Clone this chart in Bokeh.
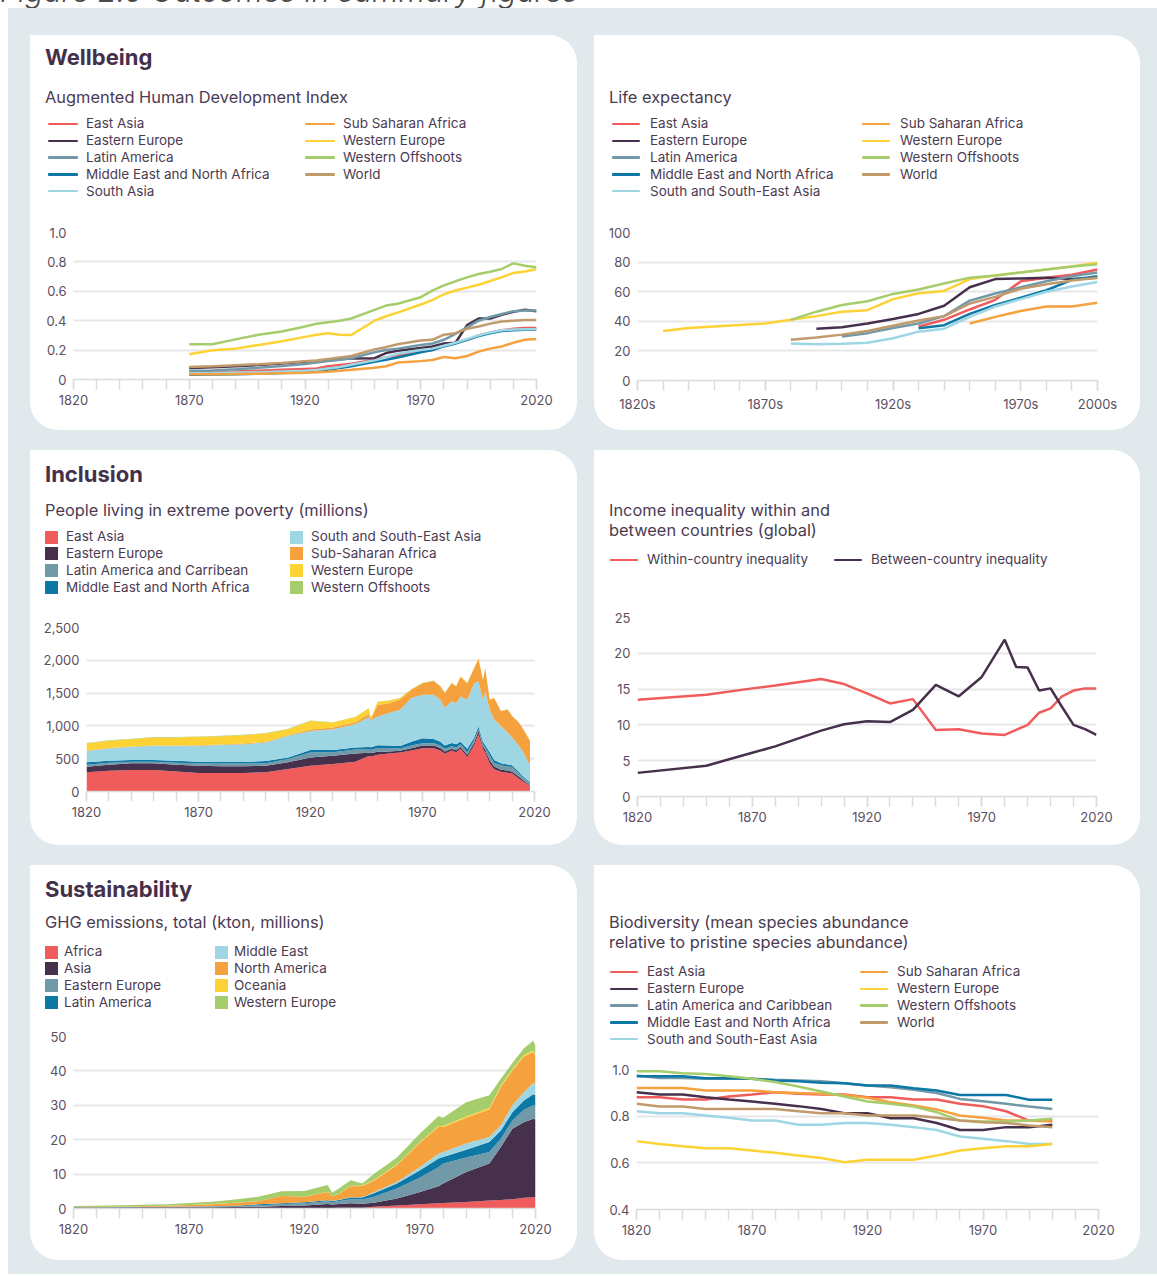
import math
from bokeh.plotting import figure
from bokeh.models import (ColumnDataSource, FixedTicker, NumeralTickFormatter, Spacer, Div, Range1d)
from bokeh.layouts import column, row
from bokeh.embed import file_html
from bokeh.resources import INLINE

N = float("nan")

FONT = "Inter"
TITLE_C = "#45304b"
TEXT_C = "#4b3b52"
TICK_C = "#5d4f62"
GRID_C = "#e7e7e9"
AXIS_C = "#dcdcdc"
BG = "#e2e9ec"

C_EA = "#f05c5c"
C_EE = "#46304c"
C_LA = "#7199a8"
C_ME = "#0d77a6"
C_SA = "#9fd6e4"
C_SSA = "#f5a13d"
C_WE = "#fdd235"
C_WO = "#a6cd6c"
C_WD = "#c19a6b"

# ---------------- Augmented HDI ----------------
hdi_years = [1870, 1880, 1890, 1900, 1910, 1920, 1925, 1930, 1935, 1940, 1950, 1955,
             1960, 1970, 1975, 1980, 1985, 1990, 1995, 2000, 2005, 2010, 2015, 2020]
hdi_east_asia = [.050, .052, .055, .060, .066, .072, .075, .090, .098, .108, .135, .150,
                 .163, .190, .200, .230, .250, .270, .300, .318, .335, .345, .350, .350]
hdi_eastern_europe = [.078, .083, .090, .098, .108, .120, .125, .130, .138, .143, .145, .180,
                      .195, .215, .225, .245, .250, .370, .415, .415, .440, .460, .475, .465]
hdi_latin_america = [.060, .062, .070, .080, .092, .105, .115, .125, .135, .145, .185, .200,
                     .210, .235, .245, .270, .310, .355, .400, .425, .445, .465, .470, .470]
hdi_mena = [.033, .034, .036, .040, .045, .052, .058, .068, .078, .090, .120, .135,
            .150, .185, .200, .225, .245, .270, .295, .315, .330, .335, .338, .338]
hdi_south_asia = [.042, .044, .047, .050, .055, .060, .065, .075, .085, .100, .130, .150,
                  .175, .200, .210, .230, .250, .275, .300, .320, .335, .340, .342, .342]
hdi_ssa = [.035, .036, .037, .039, .042, .046, .050, .052, .060, .066, .080, .090,
           .115, .125, .133, .153, .145, .160, .190, .210, .225, .250, .270, .275]
hdi_western_europe = [.172, .199, .210, .235, .260, .290, .305, .315, .305, .303, .400, .430,
                      .455, .510, .540, .580, .605, .625, .645, .670, .695, .725, .735, .752]
hdi_offshoots = [.239, .240, .273, .305, .327, .360, .380, .390, .400, .415, .474, .503,
                 .515, .560, .605, .640, .668, .695, .718, .733, .752, .790, .774, .763]
hdi_world = [.085, .090, .097, .104, .113, .124, .130, .140, .150, .160, .205, .220,
             .240, .265, .270, .305, .315, .345, .360, .380, .395, .400, .405, .405]
hdi_labels = ["East Asia", "Eastern Europe", "Latin America", "Middle East and North Africa",
              "South Asia", "Sub Saharan Africa", "Western Europe", "Western Offshoots", "World"]

# ---------------- Life expectancy (decades) ----------------
le_decades = [1820, 1830, 1840, 1850, 1860, 1870, 1880, 1890, 1900, 1910,
              1920, 1930, 1940, 1950, 1960, 1970, 1980, 1990, 2000]
le_east_asia = [N] * 11 + [36.5, 41, 48, 54.5, 67, 69.5, 71.5, 75]
le_eastern_europe = [N] * 7 + [35, 36, 38.5, 41.5, 45, 50.5, 63, 68.5, 69, 69.5, 68.5, 69.5]
le_latin_america = [N] * 8 + [29.8, 32, 35.5, 38.5, 43.5, 54, 58.8, 63, 67, 70.5, 73]
le_mena = [N] * 11 + [35.3, 37.4, 45, 51, 56, 61, 68, 70.5]
le_ssea = [N] * 6 + [25, 24.5, 24.8, 25.5, 28.5, 33, 35, 43, 50, 55, 60, 63.5, 66.5]
le_ssa = [N] * 13 + [38.5, 43, 47, 50, 50, 52.5]
le_western_europe = [N, 33.5, 35.5, 36.5, 37.5, 38.5, 41, 43.5, 46.5, 47.5,
                     55, 59, 60.5, 68.5, 71, 73, 75, 77, 79.5]
le_offshoots = [N] * 6 + [41, 46.5, 51, 53.5, 58.5, 61.5, 65.5, 69.5, 71, 73, 75, 77, 78.5]
le_world = [N] * 6 + [27.5, 29, 31, 33.5, 37, 40.5, 43.5, 52, 56.5, 62, 65, 67.5, 69.5]
le_labels = ["East Asia", "Eastern Europe", "Latin America", "Middle East and North Africa",
             "South and South-East Asia", "Sub Saharan Africa", "Western Europe",
             "Western Offshoots", "World"]
le_tick_labels = {1820: "1820s", 1870: "1870s", 1920: "1920s", 1970: "1970s", 2000: "2000s"}

# ---------------- Extreme poverty (millions) ----------------
pov_years = [1820, 1830, 1840, 1850, 1860, 1870, 1880, 1890, 1900, 1910,
             1920, 1930, 1940, 1946, 1947, 1950, 1955, 1960, 1965, 1970,
             1975, 1978, 1980, 1983, 1985, 1987, 1990, 1993, 1995, 1997,
             1998, 2000, 2002, 2005, 2008, 2010, 2013, 2015, 2018]
pov_east_asia = [293, 318, 328, 328, 303, 283, 283, 283, 293, 343,
                 394, 419, 455, 540, 535, 560, 580, 595, 625, 660,
                 660, 625, 575, 625, 600, 650, 525, 700, 875, 650,
                 600, 425, 340, 300, 285, 275, 200, 150, 90]
pov_eastern_europe = [86, 91, 101, 101, 106, 111, 101, 101, 101, 101,
                      126, 126, 126, 50, 50, 45, 30, 25, 35, 40,
                      40, 40, 35, 25, 30, 30, 35, 40, 50, 40,
                      40, 50, 40, 30, 35, 25, 30, 20, 10]
pov_latin_america = [30, 31, 26, 26, 31, 35, 41, 41, 36, 51,
                     76, 55, 59, 50, 50, 60, 55, 35, 40, 35,
                     35, 35, 40, 40, 40, 40, 40, 40, 25, 30,
                     30, 75, 60, 70, 60, 75, 50, 40, 25]
pov_mena = [35, 30, 25, 25, 30, 26, 25, 25, 35, 25,
            35, 31, 32, 40, 40, 40, 35, 40, 60, 75,
            65, 60, 50, 50, 50, 40, 50, 40, 40, 40,
            40, 50, 40, 30, 30, 25, 20, 20, 15]
pov_ssea = [177, 187, 202, 217, 227, 242, 257, 272, 282, 328,
            293, 318, 353, 450, 410, 440, 495, 550, 665, 665,
            675, 640, 575, 635, 630, 690, 750, 830, 685, 640,
            815, 650, 620, 570, 490, 425, 400, 370, 260]
pov_ssa = [5, 5, 5, 5, 5, 8, 8, 8, 10, 15,
           20, 25, 30, 50, 20, 175, 150, 160, 125, 175,
           210, 200, 225, 275, 250, 300, 250, 225, 350, 300,
           350, 150, 325, 225, 350, 325, 350, 350, 375]
pov_western_europe = [106, 111, 111, 121, 121, 128, 128, 129, 127, 86,
                      132, 77, 81, 85, 15, 50, 40, 20, 10, 5,
                      5, 5, 5, 5, 5, 5, 5, 5, 5, 5,
                      5, 5, 3, 3, 2, 2, 2, 2, 2]
pov_offshoots = [8, 7, 7, 7, 7, 7, 7, 7, 6, 6,
                 6, 5, 4, 3, 2, 3, 3, 3, 3, 3,
                 3, 3, 3, 3, 3, 3, 3, 3, 3, 3,
                 3, 3, 2, 2, 2, 2, 2, 2, 2]
pov_labels = ["East Asia", "Eastern Europe", "Latin America and Carribean",
              "Middle East and North Africa", "South and South-East Asia",
              "Sub-Saharan Africa", "Western Europe", "Western Offshoots"]

# ---------------- Income inequality ----------------
ineq_years = [1820, 1850, 1870, 1880, 1900, 1910, 1920, 1930, 1940, 1950, 1960,
              1970, 1980, 1985, 1990, 1995, 2000, 2005, 2010, 2015, 2020]
ineq_within = [13.5, 14.2, 15.1, 15.5, 16.4, 15.7, 14.4, 13.0, 13.6, 9.3, 9.4,
               8.8, 8.6, 9.3, 10.0, 11.7, 12.3, 14.0, 14.8, 15.1, 15.1]
ineq_between = [3.3, 4.3, 6.1, 7.0, 9.2, 10.1, 10.5, 10.4, 12.1, 15.6, 14.0,
                16.7, 21.9, 18.1, 18.0, 14.8, 15.1, 12.5, 10.0, 9.4, 8.6]
ineq_labels = ["Within-country inequality", "Between-country inequality"]

# ---------------- GHG emissions ----------------
ghg_years = [1820, 1830, 1840, 1850, 1860, 1870, 1880, 1890, 1900, 1910,
             1920, 1930, 1932, 1935, 1940, 1945, 1950, 1960, 1970, 1978,
             1980, 1990, 2000, 2005, 2010, 2015, 2019, 2020]
ghg_africa = [0.02, 0.02, 0.03, 0.03, 0.04, 0.05, 0.06, 0.07, 0.1, 0.12,
              0.15, 0.18, 0.18, 0.2, 0.2, 0.25, 0.5, 0.9, 1.2, 1.5,
              1.6, 1.9, 2.3, 2.5, 2.7, 3.1, 3.3, 3.3]
ghg_asia = [0.25, 0.27, 0.28, 0.3, 0.3, 0.3, 0.32, 0.35, 0.4, 0.58,
            0.75, 1.1, 1.0, 1.1, 1.3, 1.1, 1.2, 2.0, 3.6, 5.0,
            5.7, 8.7, 10.8, 15.4, 20.5, 22.0, 22.8, 22.6]
ghg_eastern_europe = [0.05, 0.06, 0.08, 0.1, 0.12, 0.15, 0.2, 0.28, 0.4, 0.6,
                      0.6, 0.8, 0.7, 0.9, 1.2, 1.3, 1.7, 2.9, 4.2, 5.5,
                      5.8, 4.2, 3.3, 2.4, 2.4, 3.6, 3.9, 4.0]
ghg_latin_america = [0.02, 0.02, 0.02, 0.03, 0.04, 0.05, 0.07, 0.1, 0.3, 0.2,
                     0.3, 0.3, 0.3, 0.3, 0.5, 0.55, 1.0, 1.5, 2.1, 2.5,
                     1.9, 2.3, 2.9, 2.4, 2.4, 2.7, 3.2, 3.0]
ghg_middle_east = [0.01, 0.01, 0.01, 0.01, 0.01, 0.01, 0.01, 0.02, 0.02, 0.03,
                   0.04, 0.05, 0.05, 0.05, 0.06, 0.07, 0.3, 0.4, 1.0, 1.4,
                   1.4, 1.8, 1.5, 1.5, 2.0, 2.4, 3.3, 3.2]
ghg_north_america = [0.05, 0.07, 0.1, 0.15, 0.25, 0.45, 0.6, 0.85, 0.88, 2.07,
                     1.56, 2.35, 1.3, 1.75, 3.24, 3.3, 3.4, 4.9, 7.0, 7.8,
                     7.3, 7.5, 8.0, 11.1, 10.1, 10.4, 9.0, 8.2]
ghg_oceania = [0, 0, 0, 0.01, 0.01, 0.01, 0.02, 0.02, 0.03, 0.04,
               0.05, 0.06, 0.05, 0.06, 0.07, 0.08, 0.15, 0.2, 0.25, 0.3,
               0.3, 0.35, 0.4, 0.4, 0.4, 0.4, 0.4, 0.4]
ghg_western_europe = [0.3, 0.35, 0.4, 0.45, 0.5, 0.55, 0.65, 0.9, 1.27, 1.36,
                      1.65, 1.96, 1.0, 1.5, 1.63, 0.65, 1.75, 2.0, 2.45, 2.9,
                      2.4, 4.15, 3.7, 2.0, 1.8, 2.0, 2.9, 2.6]
ghg_labels = ["Africa", "Asia", "Eastern Europe", "Latin America",
              "Middle East", "North America", "Oceania", "Western Europe"]

# ---------------- Biodiversity ----------------
bd_years = [1820, 1830, 1840, 1850, 1860, 1870, 1880, 1890, 1900, 1910,
            1920, 1930, 1940, 1950, 1960, 1970, 1980, 1990, 2000]
bd_east_asia = [.881, .881, .871, .871, .884, .893, .903, .896, .893, .893,
                .881, .881, .871, .871, .853, .843, .821, .781, .781]
bd_eastern_europe = [.903, .893, .893, .881, .871, .863, .853, .843, .831, .813,
                     .813, .791, .791, .771, .741, .741, .753, .753, .763]
bd_latin_america = [.974, .964, .964, .960, .960, .960, .956, .953, .950, .941,
                    .931, .924, .913, .899, .874, .864, .853, .841, .831]
bd_mena = [.971, .971, .971, .963, .963, .960, .953, .950, .943, .941,
           .931, .931, .920, .910, .891, .891, .891, .870, .870]
bd_ssea = [.821, .813, .813, .803, .793, .781, .781, .763, .763, .771,
           .771, .763, .753, .741, .713, .703, .693, .681, .681]
bd_ssa = [.921, .921, .921, .910, .910, .910, .903, .899, .896, .891,
          .879, .860, .846, .829, .803, .793, .781, .781, .777]
bd_western_europe = [.693, .681, .671, .663, .663, .653, .643, .631, .621, .603,
                     .613, .613, .613, .631, .653, .663, .671, .671, .681]
bd_offshoots = [.993, .993, .984, .981, .971, .960, .946, .927, .906, .884,
                .863, .853, .841, .817, .781, .777, .777, .781, .789]
bd_world = [.853, .841, .841, .831, .831, .831, .831, .821, .813, .813,
            .803, .803, .803, .793, .781, .774, .771, .760, .753]
bd_labels = ["East Asia", "Eastern Europe", "Latin America and Caribbean",
             "Middle East and North Africa", "South and South-East Asia",
             "Sub Saharan Africa", "Western Europe", "Western Offshoots", "World"]

year_major = [1820, 1870, 1920, 1970, 2020]
year_minor = list(range(1820, 2021, 10))

REGION_COLORS = [C_EA, C_EE, C_LA, C_ME, C_SA, C_SSA, C_WE, C_WO, C_WD]
STACK_COLORS = [C_EA, C_EE, C_LA, C_ME, C_SA, C_SSA, C_WE, C_WO]
CARD_H = 395
PLOT_TOP = 14      # room kept above the chart frame inside the plot figure
SUB_PX = 16.4
LEG_PX = 13.5
PITCH = 16.8


def make_plot(width, fr, xr, yr):
    left, right, top, bottom = fr
    h = CARD_H - (top - PLOT_TOP)
    p = figure(width=width, height=h, x_range=Range1d(*xr), y_range=Range1d(*yr),
               output_backend="svg", toolbar_location=None,
               min_border_left=left, min_border_right=width - right,
               min_border_top=PLOT_TOP, min_border_bottom=CARD_H - bottom,
               border_fill_alpha=0, background_fill_alpha=0, outline_line_color=None)
    return p


def style_axes(p, yticks, xmajor=year_major, xminor=year_minor, yover=None, yfmt=None, xover=None):
    xa = p.xaxis[0]
    xa.ticker = FixedTicker(ticks=xmajor, minor_ticks=xminor)
    xa.axis_line_color = AXIS_C
    xa.axis_line_width = 1.5
    xa.major_tick_line_color = AXIS_C
    xa.minor_tick_line_color = AXIS_C
    xa.major_tick_line_width = 1.5
    xa.minor_tick_line_width = 1.5
    xa.major_tick_in = 0
    xa.major_tick_out = 10
    xa.minor_tick_in = 0
    xa.minor_tick_out = 10
    xa.major_label_standoff = 5
    xa.major_label_text_font = FONT
    xa.major_label_text_font_size = "13px"
    xa.major_label_text_color = TICK_C
    if xover:
        xa.major_label_overrides = xover
    ya = p.yaxis[0]
    ya.ticker = FixedTicker(ticks=yticks)
    ya.axis_line_color = None
    ya.major_tick_line_color = None
    ya.minor_tick_line_color = None
    ya.major_tick_in = 0
    ya.major_tick_out = 0
    ya.minor_tick_in = 0
    ya.minor_tick_out = 0
    ya.major_label_standoff = 7
    ya.major_label_text_font = FONT
    ya.major_label_text_font_size = "13px"
    ya.major_label_text_color = TICK_C
    if yover:
        ya.major_label_overrides = yover
    if yfmt is not None:
        ya.formatter = yfmt
    p.xgrid.visible = False
    p.ygrid.ticker = FixedTicker(ticks=yticks)
    p.ygrid.grid_line_color = GRID_C
    p.ygrid.grid_line_width = 2


def text_html(text, x, yc, size, bold=False, color=TEXT_C):
    lh = round(size * 1.3)
    weight = 700 if bold else 400
    return (f'<div style="position:absolute; left:{x}px; top:{yc - lh / 2:.1f}px; '
            f'height:{lh}px; line-height:{lh}px; font-size:{size}px; font-weight:{weight}; '
            f'color:{color}; white-space:nowrap;">{text}</div>')


def legend_html(kind, colors, labels, x, first_c, nrows, col_pitch, glyph_w, standoff,
                horizontal=False):
    out = []
    for i, (c, lab) in enumerate(zip(colors, labels)):
        if horizontal:
            left, yc = x + i * col_pitch, first_c
        else:
            left, yc = x + (i // nrows) * col_pitch, first_c + (i % nrows) * PITCH
        if kind == "line":
            g = (f'<span style="display:inline-block; width:{glyph_w}px; height:2.5px; '
                 f'background:{c}; border-radius:1px; margin-right:{standoff}px;"></span>')
        else:
            g = (f'<span style="display:inline-block; width:{glyph_w}px; height:{glyph_w}px; '
                 f'background:{c}; margin-right:{standoff}px;"></span>')
        out.append(f'<div style="position:absolute; left:{left}px; top:{yc - 9:.1f}px; height:18px; '
                   f'display:flex; align-items:center; white-space:nowrap; font-size:{LEG_PX}px; '
                   f'color:{TEXT_C};">{g}<span>{lab}</span></div>')
    return "".join(out)


def make_header(width, fr, parts):
    hh = fr[2] - PLOT_TOP
    html = (f'<div style="position:relative; width:{width}px; height:{hh}px; '
            f'font-family:{FONT}, sans-serif;">' + "".join(parts) + '</div>')
    return Div(text=html, width=width, height=hh, margin=0)


def card(hd, p):
    return column(hd, p, styles={"background-color": "white",
                                 "border-radius": "0 28px 28px 28px",
                                 "overflow": "hidden"})


# ---------- Card 1: Augmented HDI ----------
fr1 = (43, 506, 197, 344)
p1 = make_plot(547, fr1, (1820, 2020), (0, 1.0))
style_axes(p1, [0, 0.2, 0.4, 0.6, 0.8, 1.0],
           yover={0: "0", 0.2: "0.2", 0.4: "0.4", 0.6: "0.6", 0.8: "0.8", 1.0: "1.0"})
hdi_series = [hdi_east_asia, hdi_eastern_europe, hdi_latin_america, hdi_mena, hdi_south_asia,
              hdi_ssa, hdi_western_europe, hdi_offshoots, hdi_world]
for s, c in zip(hdi_series, REGION_COLORS):
    p1.line(hdi_years, s, color=c, line_width=2.5)
h1 = make_header(547, fr1, [
    text_html("Wellbeing", 15, 22, 22, bold=True, color=TITLE_C),
    text_html("Augmented Human Development Index", 15, 62, SUB_PX),
    legend_html("line", REGION_COLORS, hdi_labels, 18, 89, 5, 257, 30, 8)])

# ---------- Card 2: Life expectancy ----------
fr2 = (43, 503, 197, 345)
p2 = make_plot(546, fr2, (1820, 2000), (0, 100))
style_axes(p2, [0, 20, 40, 60, 80, 100], xmajor=[1820, 1870, 1920, 1970, 2000],
           xminor=le_decades, xover=le_tick_labels)
le_series = [le_east_asia, le_eastern_europe, le_latin_america, le_mena, le_ssea,
             le_ssa, le_western_europe, le_offshoots, le_world]
for s, c in zip(le_series, REGION_COLORS):
    p2.line(le_decades, s, color=c, line_width=2.5)
h2 = make_header(546, fr2, [
    text_html("Life expectancy", 15, 62, SUB_PX),
    legend_html("line", REGION_COLORS, le_labels, 18, 89, 5, 250, 28, 10)])

# ---------- Card 3: Extreme poverty ----------
fr3 = (56, 504, 177, 341)
p3 = make_plot(547, fr3, (1820, 2020), (0, 2500))
style_axes(p3, [0, 500, 1000, 1500, 2000, 2500], yfmt=NumeralTickFormatter(format="0,0"))
pov_src = ColumnDataSource(dict(year=pov_years, ea=pov_east_asia, ee=pov_eastern_europe,
                                la=pov_latin_america, me=pov_mena, ss=pov_ssea, ssa=pov_ssa,
                                we=pov_western_europe, wo=pov_offshoots))
p3.varea_stack(stackers=["ea", "ee", "la", "me", "ss", "ssa", "we", "wo"], x="year",
               color=STACK_COLORS, source=pov_src)
h3 = make_header(547, fr3, [
    text_html("Inclusion", 15, 24, 22, bold=True, color=TITLE_C),
    text_html("People living in extreme poverty (millions)", 15, 60, SUB_PX),
    legend_html("area", STACK_COLORS, pov_labels, 15, 87, 4, 245, 13, 8)])

# ---------- Card 4: Income inequality ----------
fr4 = (43, 502, 167, 346)
p4 = make_plot(546, fr4, (1820, 2020), (0, 25))
style_axes(p4, [0, 5, 10, 15, 20, 25])
p4.line(ineq_years, ineq_within, color=C_EA, line_width=2.5)
p4.line(ineq_years, ineq_between, color=C_EE, line_width=2.5)
h4 = make_header(546, fr4, [
    text_html("Income inequality within and", 15, 60, SUB_PX),
    text_html("between countries (global)", 15, 80, SUB_PX),
    legend_html("line", [C_EA, C_EE], ineq_labels, 16, 110, 1, 224, 28, 9, horizontal=True)])

# ---------- Card 5: GHG emissions ----------
fr5 = (43, 505, 171, 343)
p5 = make_plot(547, fr5, (1820, 2020), (0, 50))
style_axes(p5, [0, 10, 20, 30, 40, 50])
ghg_src = ColumnDataSource(dict(year=ghg_years, af=ghg_africa, asia=ghg_asia,
                                ee=ghg_eastern_europe, la=ghg_latin_america,
                                me=ghg_middle_east, na=ghg_north_america,
                                oc=ghg_oceania, we=ghg_western_europe))
p5.varea_stack(stackers=["af", "asia", "ee", "la", "me", "na", "oc", "we"], x="year",
               color=STACK_COLORS, source=ghg_src)
h5 = make_header(547, fr5, [
    text_html("Sustainability", 15, 24, 22, bold=True, color=TITLE_C),
    text_html("GHG emissions, total (kton, millions)", 15, 57, SUB_PX),
    legend_html("area", STACK_COLORS, ghg_labels, 15, 87, 4, 170, 13, 6)])

# ---------- Card 6: Biodiversity ----------
fr6 = (42, 504, 204, 344)
p6 = make_plot(546, fr6, (1820, 2020), (0.4, 1.0))
style_axes(p6, [0.4, 0.6, 0.8, 1.0],
           yover={0.4: "0.4", 0.6: "0.6", 0.8: "0.8", 1.0: "1.0"})
bd_series = [bd_east_asia, bd_eastern_europe, bd_latin_america, bd_mena, bd_ssea,
             bd_ssa, bd_western_europe, bd_offshoots, bd_world]
for s, c in zip(bd_series, REGION_COLORS):
    p6.line(bd_years, s, color=c, line_width=2.5)
h6 = make_header(546, fr6, [
    text_html("Biodiversity (mean species abundance", 15, 57, SUB_PX),
    text_html("relative to pristine species abundance)", 15, 77, SUB_PX),
    legend_html("line", REGION_COLORS, bd_labels, 16, 107, 5, 250, 28, 9)])

# ---------- Page layout ----------
title_div = Div(text='<div style="position:absolute; top:-24px; left:0px; white-space:nowrap; '
                     'font-family:Inter, sans-serif; font-style:italic; font-weight:300; '
                     'font-size:30.5px; line-height:30.5px; color:#4a4a4a;">'
                     'Figure 2.6 Outcomes in summary figures</div>',
                width=1157, height=8, margin=0, styles={"overflow": "visible"})

gray = column(
    Spacer(height=27),
    row(Spacer(width=22), card(h1, p1), Spacer(width=17), card(h2, p2), Spacer(width=17)),
    Spacer(height=20),
    row(Spacer(width=22), card(h3, p3), Spacer(width=17), card(h4, p4), Spacer(width=17)),
    Spacer(height=20),
    row(Spacer(width=22), card(h5, p5), Spacer(width=17), card(h6, p6), Spacer(width=17)),
    Spacer(height=14),
    styles={"background-color": BG},
)
root = column(title_div, row(Spacer(width=8), gray))

open("out.html", "w").write(file_html(root, INLINE))
